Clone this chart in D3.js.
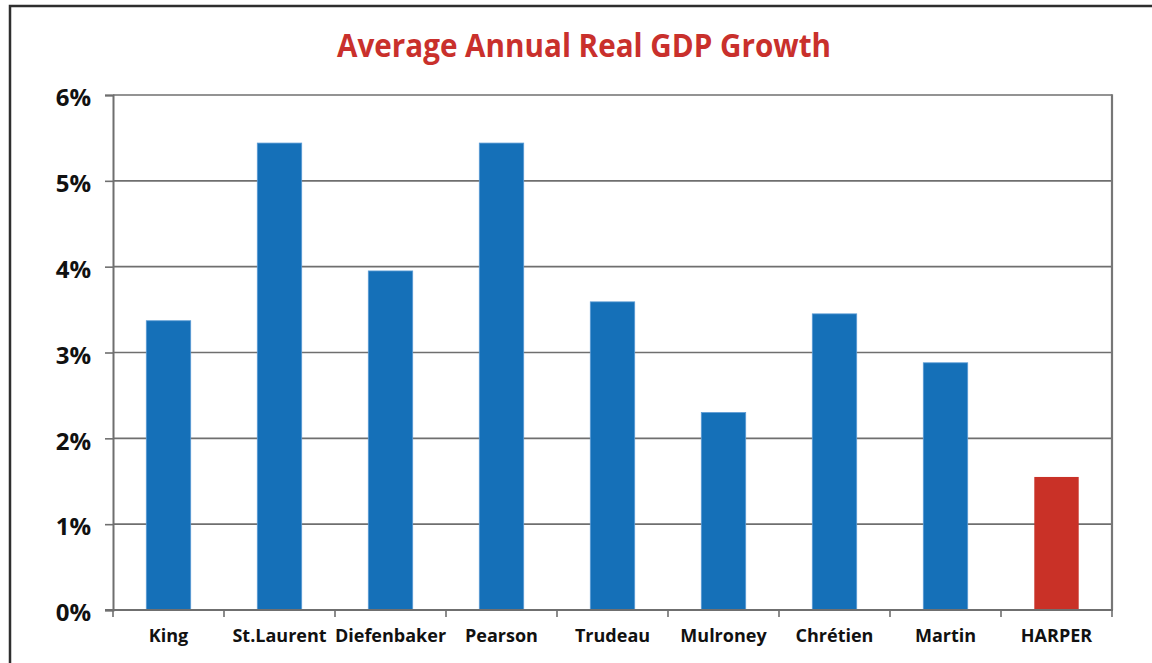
<!DOCTYPE html>
<html>
<head>
<meta charset="utf-8">
<script src="https://cdn.jsdelivr.net/npm/d3@7"></script>
<style>
  html, body { margin: 0; padding: 0; background: #fff; }
  svg { display: block; }
</style>
</head>
<body>
<script>
// Average annual real GDP growth by prime minister
const leaders = ["King", "St.Laurent", "Diefenbaker", "Pearson", "Trudeau", "Mulroney", "Chrétien", "Martin", "HARPER"];
const growth = [3.37, 5.44, 3.95, 5.44, 3.59, 2.30, 3.45, 2.88, 1.55];
const highlighted = ["HARPER"];
const yTicks = [0, 1, 2, 3, 4, 5, 6];

const W = 1152, H = 663;
const margin = { left: 113, right: 40, top: 95, bottom: 53 };

const svg = d3.select("body").append("svg")
  .attr("width", W).attr("height", H);

// Outer frame
svg.append("rect")
  .attr("x", 10).attr("y", 6)
  .attr("width", 1160).attr("height", 700)
  .attr("fill", "#fff")
  .attr("stroke", "#2e2e2e").attr("stroke-width", 2.5);

const x = d3.scaleBand()
  .domain(leaders)
  .range([margin.left, W - margin.right])
  .paddingInner(0.6).paddingOuter(0.3);

const y = d3.scaleLinear()
  .domain([0, 6])
  .range([H - margin.bottom, margin.top]);

const font = "'Open Sans', sans-serif";

// Title
svg.append("text")
  .attr("x", 584).attr("y", 57)
  .attr("text-anchor", "middle")
  .attr("font-family", font)
  .attr("font-weight", "bold")
  .attr("font-size", 32)
  .attr("textLength", 494)
  .attr("lengthAdjust", "spacingAndGlyphs")
  .attr("fill", "#C9302C")
  .text("Average Annual Real GDP Growth");

// Horizontal gridlines
svg.append("g")
  .selectAll("line")
  .data(yTicks.filter(d => d > 0))
  .join("line")
  .attr("x1", margin.left).attr("x2", W - margin.right)
  .attr("y1", d => y(d)).attr("y2", d => y(d))
  .attr("stroke", "#6f6f6f").attr("stroke-width", 1.6);

// Right border of plot area
svg.append("line")
  .attr("x1", W - margin.right).attr("x2", W - margin.right)
  .attr("y1", y(6) - 0.8).attr("y2", y(0))
  .attr("stroke", "#777").attr("stroke-width", 2.2);

// Bars
svg.append("g")
  .selectAll("rect")
  .data(leaders.map((name, i) => ({ name, value: growth[i] })))
  .join("rect")
  .attr("x", d => x(d.name))
  .attr("width", x.bandwidth())
  .attr("y", d => y(d.value))
  .attr("height", d => y(0) - y(d.value))
  .attr("fill", d => highlighted.includes(d.name) ? "#C93127" : "#1570B8")
  .attr("stroke", d => highlighted.includes(d.name) ? "none" : "#5a9ad4")
  .attr("stroke-width", 0.8);

// Y axis
const yAxis = d3.axisLeft(y)
  .tickValues(yTicks)
  .tickSize(8)
  .tickPadding(14)
  .tickFormat(d => d + "%");

const gy = svg.append("g")
  .attr("transform", `translate(${margin.left},0)`)
  .call(yAxis);
gy.select(".domain").attr("stroke", "#6f6f6f").attr("stroke-width", 2);
gy.selectAll(".tick line").attr("stroke", "#6f6f6f").attr("stroke-width", 1.6);
gy.selectAll(".tick text")
  .attr("font-family", font)
  .attr("font-weight", "bold")
  .attr("font-size", 24)
  .attr("fill", "#111")
  .attr("dy", "0.45em");

// X axis with ticks at category boundaries
const boundaries = d3.range(leaders.length + 1).map(i => margin.left + i * (W - margin.right - margin.left) / leaders.length);

const gx = svg.append("g");
gx.append("line")
  .attr("x1", margin.left - 8).attr("x2", W - margin.right + 1)
  .attr("y1", y(0)).attr("y2", y(0))
  .attr("stroke", "#6f6f6f").attr("stroke-width", 2);
gx.selectAll("line.tk")
  .data(boundaries)
  .join("line")
  .attr("class", "tk")
  .attr("x1", d => d).attr("x2", d => d)
  .attr("y1", y(0)).attr("y2", y(0) + 7)
  .attr("stroke", "#6f6f6f").attr("stroke-width", 1.6);
gx.selectAll("text")
  .data(leaders)
  .join("text")
  .attr("x", d => x(d) + x.bandwidth() / 2)
  .attr("y", y(0) + 32)
  .attr("text-anchor", "middle")
  .attr("font-family", font)
  .attr("font-weight", "bold")
  .attr("font-size", 18)
  .attr("fill", "#111")
  .text(d => d);
</script>
</body>
</html>
